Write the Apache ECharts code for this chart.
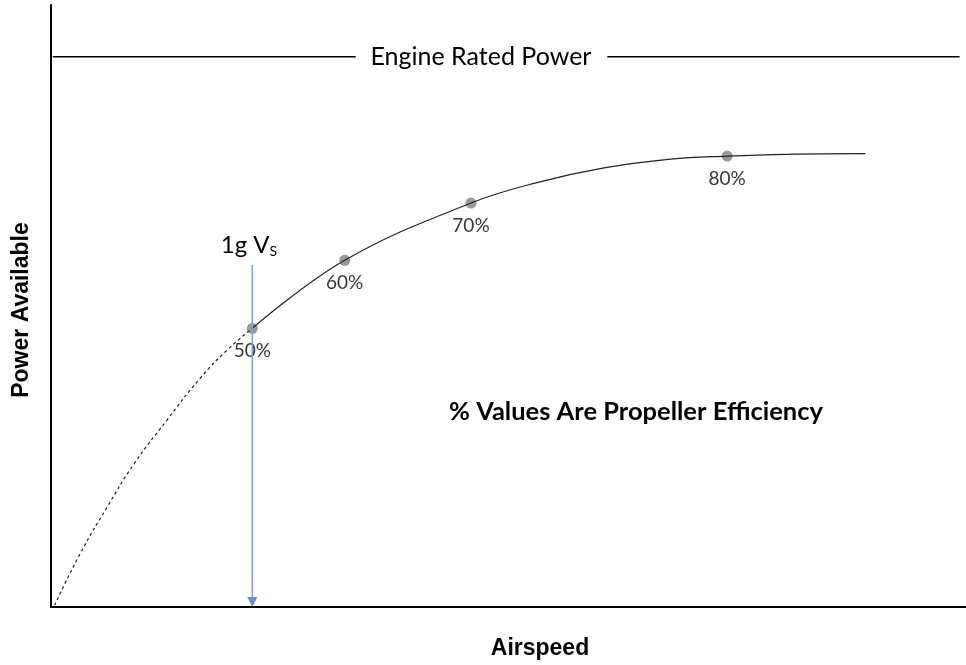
<!DOCTYPE html>
<html>
<head>
<meta charset="utf-8">
<script src="https://cdn.jsdelivr.net/npm/echarts@6/dist/echarts.min.js"></script>
<style>
html,body{margin:0;padding:0;background:#fff;}
#chart{width:966px;height:665px;}
</style>
</head>
<body>
<div id="chart"></div>
<script>
// Data (arbitrary units: airspeed 0-100, power 0-100)
var dashedCurve = [[0.4,0.3],[3.2,8.9],[6.1,16.5],[9.0,23.6],[12.7,31.1],[16.3,38.0],[19.2,42.6],[22.0,46.3]];
var solidCurve = [[22.0,46.3],[32.1,57.6],[45.9,67.1],[53.1,70.5],[60.3,72.9],[67.7,74.4],[73.9,74.9],[80.4,75.2],[89.0,75.3]];
var efficiencyPoints = [[22.0,46.3],[32.1,57.6],[45.9,67.1],[73.9,74.9]];
var efficiencyLabels = ['50%','60%','70%','80%'];
var ratedPower = 91.4;
var ratedLeft = [0.2, 33.3];
var ratedRight = [60.8, 99.3];
var stallSpeed = 22.0;
var stallArrowTop = 56.8;
var stallArrowShaftEnd = 1.5;
var stallArrowHead = 0.85;

var chart = echarts.init(document.getElementById('chart'), null, {renderer:'canvas'});
var calibri = 'Lato, "Open Sans", sans-serif';
var option = {
  animation:false,
  backgroundColor:'#fff',
  grid:{left:51, right:0, top:5, bottom:58},
  xAxis:{type:'value', min:0, max:100, axisLine:{show:true, onZero:false, lineStyle:{color:'#000', width:2}},
    axisTick:{show:false}, axisLabel:{show:false}, splitLine:{show:false}},
  yAxis:{type:'value', min:0, max:100, axisLine:{show:true, onZero:false, lineStyle:{color:'#000', width:2}},
    axisTick:{show:false}, axisLabel:{show:false}, splitLine:{show:false}},
  series:[
    {type:'line', data:dashedCurve, smooth:0.5, symbol:'none',
     lineStyle:{color:'#222', width:1.2, type:[3,3]}},
    {type:'line', data:solidCurve, smooth:0.4, symbol:'none',
     lineStyle:{color:'#222', width:1.2}},
    {type:'line', data:[[ratedLeft[0],ratedPower],[ratedLeft[1],ratedPower]], symbol:'none',
     lineStyle:{color:'#000', width:1.5}},
    {type:'line', data:[[ratedRight[0],ratedPower],[ratedRight[1],ratedPower]], symbol:'none',
     lineStyle:{color:'#000', width:1.5}},
    {type:'line', data:[[stallSpeed, stallArrowTop],[stallSpeed, stallArrowShaftEnd]], symbol:'none',
     lineStyle:{color:'#7f9fdc', width:1.5}},
    {type:'scatter', data:[[stallSpeed, stallArrowHead]], symbol:'triangle', symbolRotate:180, symbolSize:[10,10],
     itemStyle:{color:'#4472c4'}},
    {type:'scatter', data:efficiencyPoints.map(function(p,i){return {value:p, name:efficiencyLabels[i]};}),
     symbolSize:11, itemStyle:{color:'#7f7f7f'},
     label:{show:true, position:'bottom', distance:8, formatter:function(p){return p.name;},
       color:'#000000', fontSize:19, fontFamily:calibri}}
  ],
  graphic:[
    {type:'text', style:{text:'Engine Rated Power', fill:'#000', font:'25px '+calibri, textAlign:'center', textVerticalAlign:'middle'}, position:[481,57]},
    {type:'text', style:{text:'% Values Are Propeller Efficiency', fill:'#000', font:'bold 25.5px '+calibri, textAlign:'center', textVerticalAlign:'middle'}, position:[636,412]},
    {type:'text', style:{text:'Airspeed', fill:'#000', font:'bold 23px "Liberation Sans", Arial, sans-serif', textAlign:'center', textVerticalAlign:'middle'}, position:[540,649]},
    {type:'text', style:{text:'Power Available', fill:'#000', font:'bold 23px "Liberation Sans", Arial, sans-serif', textAlign:'center', textVerticalAlign:'middle'}, position:[22,310], rotation:Math.PI/2},
    {type:'text', style:{text:'{a|1g V}{b|S}', textAlign:'center', textVerticalAlign:'middle',
      rich:{a:{fill:'#000', fontSize:24, fontFamily:calibri}, b:{fill:'#000', fontSize:14, fontFamily:calibri, padding:[12,0,0,0]}}}, position:[249,245]}
  ]
};
chart.setOption(option);
</script>
</body>
</html>
